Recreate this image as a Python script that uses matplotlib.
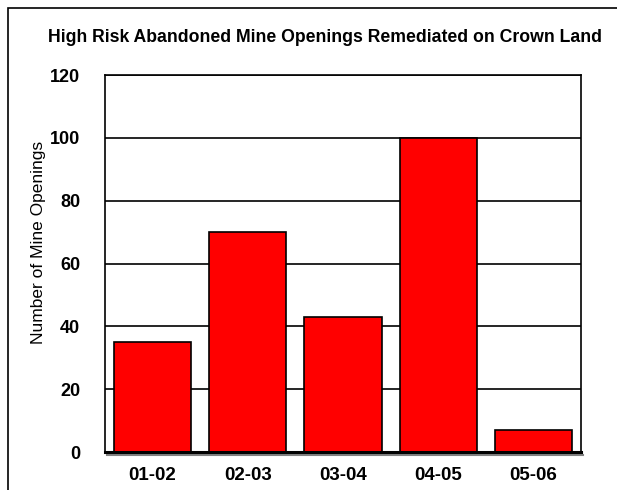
import matplotlib
matplotlib.use("Agg")
import matplotlib.pyplot as plt
import matplotlib.transforms as mtransforms
from matplotlib.patches import Rectangle
from matplotlib.lines import Line2D

categories = ["01-02", "02-03", "03-04", "04-05", "05-06"]
values = [35, 70, 43, 100, 7]
yticks = [0, 20, 40, 60, 80, 100, 120]

plt.rcParams['font.family'] = ['Liberation Sans', 'DejaVu Sans']

W, H = 617, 490
fig = plt.figure(figsize=(W / 100, H / 100), dpi=100)
ax = fig.add_axes([105 / W, 1 - 452 / H, 476 / W, 377 / H])

x = range(len(categories))
ax.bar(x, values, width=0.81, color="#ff0000", edgecolor="black", linewidth=1.2, zorder=3)
ax.set_xlim(-0.5, len(categories) - 0.5)
ax.set_ylim(0, 120)
ax.set_yticks(yticks)
ax.set_yticklabels([str(t) for t in yticks], fontsize=13, fontweight="bold")
ax.set_xticks(list(x))
ax.set_xticklabels(categories, fontsize=13.5, fontweight="bold")
ax.tick_params(length=0, pad=18, axis="y")
ax.tick_params(length=0, pad=11, axis="x")
ax.grid(axis="y", color="black", linewidth=1.2, zorder=0)
ax.set_axisbelow(True)
for s in ["left", "top", "right"]:
    ax.spines[s].set_linewidth(1.2)
ax.spines["bottom"].set_linewidth(2.2)
ax.spines["bottom"].set_zorder(5)

# gray shadow under x axis
off = mtransforms.offset_copy(ax.transAxes, fig=fig, x=1.5, y=-2.2, units="points")
ax.add_line(Line2D([0, 1], [0, 0], transform=off, color="#808080", linewidth=1.5,
                   clip_on=False, zorder=4))

ax.set_ylabel("Number of Mine Openings", fontsize=12.5)
ax.yaxis.set_label_coords(-0.125, 0.557)

fig.text(0.527, 1 - 38 / H, "High Risk Abandoned Mine Openings Remediated on Crown Land",
         ha="center", va="center", fontsize=12.7, fontweight="bold")

# figure border (top and left visible)
fig.patches.append(Rectangle((8 / W, -0.5), 2.0, 1.5 - 8 / H, transform=fig.transFigure,
                             fill=False, edgecolor="black", linewidth=1.2))

fig.savefig("out.png", dpi=100)
